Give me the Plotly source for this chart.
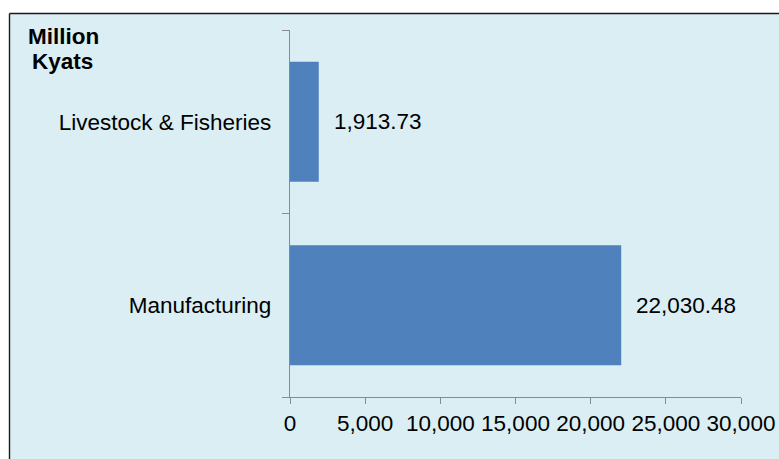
import plotly.graph_objects as go

# Value of output by sector, million kyats
sectors = ["Manufacturing", "Livestock & Fisheries"]
values = [22030.48, 1913.73]
x_ticks = [0, 5000, 10000, 15000, 20000, 25000, 30000]
x_tick_labels = ["0", "5,000", "10,000", "15,000", "20,000", "25,000", "30,000"]
unit_lines = ["Million", "Kyats"]

W, H = 779, 459
M_L, M_R, M_T, M_B = 290, 38, 30, 62
PW, PH = W - M_L - M_R, H - M_T - M_B

BG = "#DAEEF3"
BAR = "#4F81BD"
AXIS = "#8A8A8A"
FONT = "Liberation Sans, Arial, sans-serif"
FS = 22.5


def px_x(px):
    return (px - M_L) / PW


def px_y(py):
    return (H - M_B - py) / PH


fig = go.Figure(
    go.Bar(
        y=sectors,
        x=values,
        orientation="h",
        marker=dict(color=BAR, line=dict(width=0)),
        hoverinfo="skip",
    )
)

# Data labels to the right of each bar
for s, v in zip(sectors, values):
    fig.add_annotation(
        x=v, y=s, xref="x", yref="y",
        text=f"{v:,.2f}", showarrow=False,
        xanchor="left", yanchor="middle", xshift=13,
        font=dict(family=FONT, size=FS, color="#000000"),
    )

# Unit label in the top-left corner
for line, (lx, ly) in zip(unit_lines, [(26, 37), (30, 61)]):
    fig.add_annotation(
        x=px_x(lx), y=px_y(ly), xref="paper", yref="paper",
        text=f"<b>{line}</b>", showarrow=False,
        xanchor="left", yanchor="middle",
        font=dict(family=FONT, size=FS, color="#000000"),
    )

# White strips above and to the left of the chart frame
fig.add_shape(
    type="rect", xref="paper", yref="paper", layer="below",
    x0=px_x(-20), x1=px_x(W + 40), y0=px_y(13.5), y1=px_y(-20),
    fillcolor="#FFFFFF", line=dict(width=0),
)
fig.add_shape(
    type="rect", xref="paper", yref="paper", layer="below",
    x0=px_x(-20), x1=px_x(9.5), y0=px_y(H + 40), y1=px_y(-20),
    fillcolor="#FFFFFF", line=dict(width=0),
)
# Frame on the top and left edges
fig.add_shape(
    type="line", xref="paper", yref="paper", layer="below",
    x0=px_x(9.5), x1=px_x(W + 40), y0=px_y(13.5), y1=px_y(13.5),
    line=dict(color="#1A1A1A", width=1.4),
)
fig.add_shape(
    type="line", xref="paper", yref="paper", layer="below",
    x0=px_x(9.5), x1=px_x(9.5), y0=px_y(13.5), y1=px_y(H + 40),
    line=dict(color="#1A1A1A", width=1.4),
)

fig.update_layout(
    width=W, height=H, autosize=False,
    margin=dict(l=M_L, r=M_R, t=M_T, b=M_B, pad=0, autoexpand=False),
    paper_bgcolor=BG,
    plot_bgcolor="rgba(0,0,0,0)",
    bargap=0.345,
    showlegend=False,
    font=dict(family=FONT, size=FS, color="#000000"),
    xaxis=dict(
        range=[0, 30000],
        tickvals=x_ticks, ticktext=x_tick_labels,
        showgrid=False, zeroline=False,
        showline=True, linecolor=AXIS, linewidth=1.3,
        ticks="outside", ticklen=6, tickcolor=AXIS, tickwidth=1.3,
        tickfont=dict(family=FONT, size=FS, color="#000000"),
        automargin=False,
        fixedrange=True,
    ),
    yaxis=dict(
        range=[-0.5, 1.5],
        showgrid=False, zeroline=False,
        showline=True, linecolor=AXIS, linewidth=1.3,
        ticks="outside", ticklen=7, tickcolor=AXIS, tickwidth=1.3,
        tickson="boundaries",
        tickfont=dict(family=FONT, size=FS, color="#000000"),
        ticklabelstandoff=13,
        automargin=False,
        fixedrange=True,
    ),
)

fig.write_html("out.html", config={"displayModeBar": False})
